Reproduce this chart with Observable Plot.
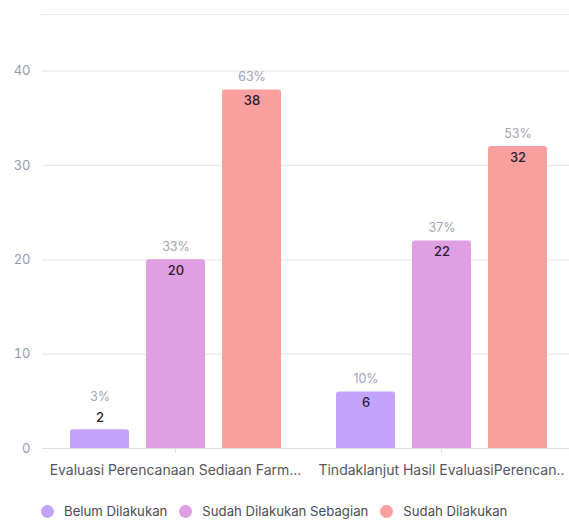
<!DOCTYPE html>
<html>
<head>
<meta charset="utf-8">
<script src="https://cdn.jsdelivr.net/npm/d3@7"></script>
<script src="https://cdn.jsdelivr.net/npm/@observablehq/plot@0.6"></script>
<style>
  html, body { margin: 0; padding: 0; background: #fff; overflow: hidden; }
  body { width: 569px; font-family: Inter, "Noto Sans", sans-serif; }
  svg { overflow: visible; }
  .legend { display: flex; margin-left: 41px; margin-top: 23px; font-size: 13.2px; color: #4a4a55; align-items: center; }
  .legend .item { display: flex; align-items: center; margin-right: 12px; }
  .legend .dot { width: 13px; height: 13px; border-radius: 50%; margin-right: 10px; }
</style>
</head>
<body>
<div id="chart"></div>
<script>
const categories = ["Evaluasi Perencanaan Sediaan Farm...", "Tindaklanjut Hasil EvaluasiPerencan.."];
const seriesNames = ["Belum Dilakukan", "Sudah Dilakukan Sebagian", "Sudah Dilakukan"];
const seriesColors = ["#c3a3fb", "#df9fe2", "#f9a09e"];
const belumValues = [2, 6];
const sebagianValues = [20, 22];
const sudahValues = [38, 32];
const yTicks = [0, 10, 20, 30, 40];

const seriesValues = [belumValues, sebagianValues, sudahValues];
const data = [];
categories.forEach((c, ci) => {
  const total = d3.sum(seriesValues, s => s[ci]);
  seriesNames.forEach((s, si) => {
    const v = seriesValues[si][ci];
    data.push({category: c, series: s, value: v, pct: Math.round(v / total * 100) + "%"});
  });
});
const small = d => d.value < 4;
const big = d => d.value >= 4;

const chart = Plot.plot({
  width: 569,
  height: 480,
  marginLeft: 42,
  marginRight: -5,
  marginTop: 14,
  marginBottom: 32,
  style: {fontFamily: "Inter, 'Noto Sans', sans-serif", fontSize: "12px", background: "#fff", overflow: "visible"},
  fx: {domain: categories, padding: 0, label: null, axis: null},
  x: {domain: seriesNames, paddingInner: 0.224, paddingOuter: 0.362, axis: null},
  y: {domain: [0, 46], ticks: yTicks, label: null},
  color: {domain: seriesNames, range: seriesColors},
  marks: [
    Plot.ruleY(yTicks.concat([46]), {stroke: "#e8e8ee", strokeWidth: 1.2}),
    Plot.ruleX([0], {frameAnchor: "left", stroke: "#e8e8ee", strokeWidth: 1.2}),
    Plot.axisY({ticks: yTicks, tickSize: 0, tickPadding: 12, fill: "#9a9aaa", fontSize: 13, label: null}),
    Plot.barY(data, {fx: "category", x: "series", y: "value", fill: "series", rx1y1: 3, rx2y1: 3, ry1: 3}),
    Plot.ruleY([0], {stroke: "#dcdce4", strokeWidth: 1.2}),
    Plot.axisFx({domain: categories, anchor: "bottom", tickSize: 5, tickPadding: 12, stroke: "#dcdce4", fill: "#555560", fontSize: 14, label: null, tickFormat: d => d, style: {letterSpacing: "0.2px"}}),
    Plot.text(data.filter(big), {fx: "category", x: "series", y: "value", text: d => String(d.value), dy: 11, fill: "#2b1b33", fontSize: 13, fontWeight: 500}),
    Plot.text(data.filter(big), {fx: "category", x: "series", y: "value", text: "pct", dy: -13, fill: "#a3a3b3", fontSize: 12.5}),
    Plot.text(data.filter(small), {fx: "category", x: "series", y: "value", text: d => String(d.value), dy: -12, fill: "#2b1b33", fontSize: 13, fontWeight: 500}),
    Plot.text(data.filter(small), {fx: "category", x: "series", y: "value", text: "pct", dy: -33, fill: "#a3a3b3", fontSize: 12.5})
  ]
});
document.getElementById("chart").appendChild(chart);

const legend = document.createElement("div");
legend.className = "legend";
seriesNames.forEach((s, i) => {
  const item = document.createElement("div");
  item.className = "item";
  const dot = document.createElement("span");
  dot.className = "dot";
  dot.style.background = seriesColors[i];
  const label = document.createElement("span");
  label.textContent = s;
  item.appendChild(dot);
  item.appendChild(label);
  legend.appendChild(item);
});
document.body.appendChild(legend);
</script>
</body>
</html>
